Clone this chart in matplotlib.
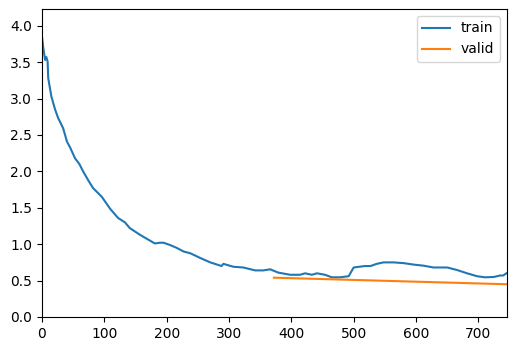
import matplotlib
matplotlib.use("Agg")
import matplotlib.pyplot as plt

train_iters = [0, 2, 5, 7, 9, 10, 15, 21, 26, 29, 34, 40, 45, 53, 60, 66, 74, 82,
               96, 109, 122, 133, 141, 157, 171, 181, 189, 195, 205, 216, 227,
               238, 254, 270, 288, 291, 307, 323, 342, 355, 366, 379, 398, 414,
               422, 433, 441, 454, 465, 478, 492, 496, 500, 518, 527, 537, 548,
               564, 580, 596, 612, 628, 639, 650, 666, 682, 698, 711, 725, 735,
               740, 745]
train_loss = [3.85, 3.70, 3.53, 3.57, 3.51, 3.28, 3.03, 2.85, 2.73, 2.68, 2.59,
              2.41, 2.33, 2.18, 2.10, 2.00, 1.88, 1.77, 1.65, 1.49, 1.36, 1.30,
              1.22, 1.13, 1.06, 1.01, 1.02, 1.02, 0.99, 0.95, 0.90, 0.875, 0.81,
              0.75, 0.70, 0.73, 0.69, 0.68, 0.64, 0.64, 0.655, 0.61, 0.58, 0.58,
              0.60, 0.58, 0.60, 0.58, 0.545, 0.545, 0.56, 0.62, 0.68, 0.70, 0.70,
              0.73, 0.75, 0.75, 0.74, 0.72, 0.705, 0.68, 0.68, 0.68, 0.645, 0.60,
              0.56, 0.545, 0.55, 0.57, 0.57, 0.60]
valid_iters = [372, 745]
valid_loss = [0.54, 0.45]

fig = plt.figure(figsize=(5.16, 3.51), dpi=100)
ax = fig.add_axes([42 / 516, 34 / 351, 465 / 516, 308 / 351])
ax.plot(train_iters, train_loss, label="train")
ax.plot(valid_iters, valid_loss, label="valid")
ax.set_xlim(0, 746)
ax.set_ylim(0, 4.23)
ax.legend(loc="upper right")
fig.savefig("out.png", dpi=100)
